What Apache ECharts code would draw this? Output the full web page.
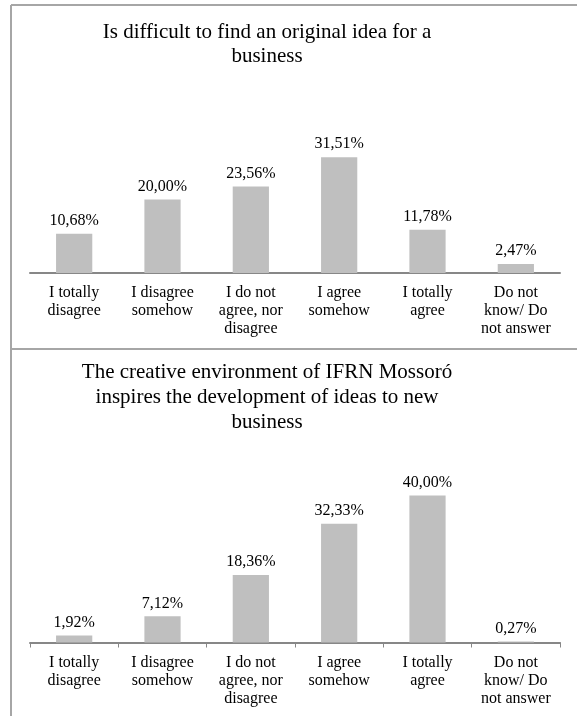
<!DOCTYPE html>
<html>
<head>
<meta charset="utf-8">
<script src="https://cdn.jsdelivr.net/npm/echarts@6/dist/echarts.min.js"></script>
<style>
  html, body { margin: 0; padding: 0; background: #fff; }
  #chart { width: 577px; height: 716px; }
</style>
</head>
<body>
<div id="chart"></div>
<script>
const categories = [
  "I totally\ndisagree",
  "I disagree\nsomehow",
  "I do not\nagree, nor\ndisagree",
  "I agree\nsomehow",
  "I totally\nagree",
  "Do not\nknow/ Do\nnot answer"
];
const titleTop = "Is difficult to find an original idea for a\nbusiness";
const titleBottom = "The creative environment of IFRN Mossoró\ninspires the development of ideas to new\nbusiness";
const valuesTop = [10.68, 20.0, 23.56, 31.51, 11.78, 2.47];
const valuesBottom = [1.92, 7.12, 18.36, 32.33, 40.0, 0.27];

const font = "Liberation Serif";
const barColor = "#bfbfbf";
const axisColor = "#878787";
const frameColor = "#a6a6a6";

const pct = (p) => p.value.toFixed(2).replace(".", ",") + "%";

function xAxis(gridIndex, ticks) {
  return {
    type: "category",
    gridIndex: gridIndex,
    data: categories,
    axisLine: { lineStyle: { color: axisColor, width: 2 } },
    axisTick: { show: ticks, length: 5, lineStyle: { color: axisColor } },
    axisLabel: {
      interval: 0,
      margin: 11,
      fontFamily: font,
      fontSize: 16,
      lineHeight: 18,
      color: "#000"
    }
  };
}

function yAxis(gridIndex) {
  return {
    type: "value",
    gridIndex: gridIndex,
    min: 0,
    max: 40,
    show: false,
    splitLine: { show: false }
  };
}

function bars(idx, data) {
  return {
    type: "bar",
    xAxisIndex: idx,
    yAxisIndex: idx,
    data: data,
    barWidth: "41%",
    itemStyle: { color: barColor },
    label: {
      show: true,
      position: "top",
      distance: 5,
      formatter: pct,
      fontFamily: font,
      fontSize: 16,
      color: "#000"
    },
    animation: false
  };
}

const chart = echarts.init(document.getElementById("chart"));
chart.setOption({
  backgroundColor: "#fff",
  animation: false,
  title: [
    {
      text: titleTop,
      left: 267,
      top: 20,
      padding: 0,
      textAlign: "center",
      textStyle: { fontFamily: font, fontSize: 21, fontWeight: "normal", lineHeight: 24, color: "#000" }
    },
    {
      text: titleBottom,
      left: 267,
      top: 360,
      padding: 0,
      textAlign: "center",
      textStyle: { fontFamily: font, fontSize: 21, fontWeight: "normal", lineHeight: 25, color: "#000" }
    }
  ],
  grid: [
    { left: 30, width: 530, top: 126, height: 147 },
    { left: 30, width: 530, top: 495.5, height: 147 }
  ],
  xAxis: [xAxis(0, false), xAxis(1, true)],
  yAxis: [yAxis(0), yAxis(1)],
  series: [bars(0, valuesTop), bars(1, valuesBottom)],
  graphic: [
    { type: "line", shape: { x1: 11, y1: 5, x2: 577, y2: 5 }, style: { stroke: frameColor, lineWidth: 2 } },
    { type: "line", shape: { x1: 11, y1: 5, x2: 11, y2: 716 }, style: { stroke: frameColor, lineWidth: 2 } },
    { type: "line", shape: { x1: 11, y1: 349, x2: 577, y2: 349 }, style: { stroke: frameColor, lineWidth: 2 } }
  ]
});
</script>
</body>
</html>
